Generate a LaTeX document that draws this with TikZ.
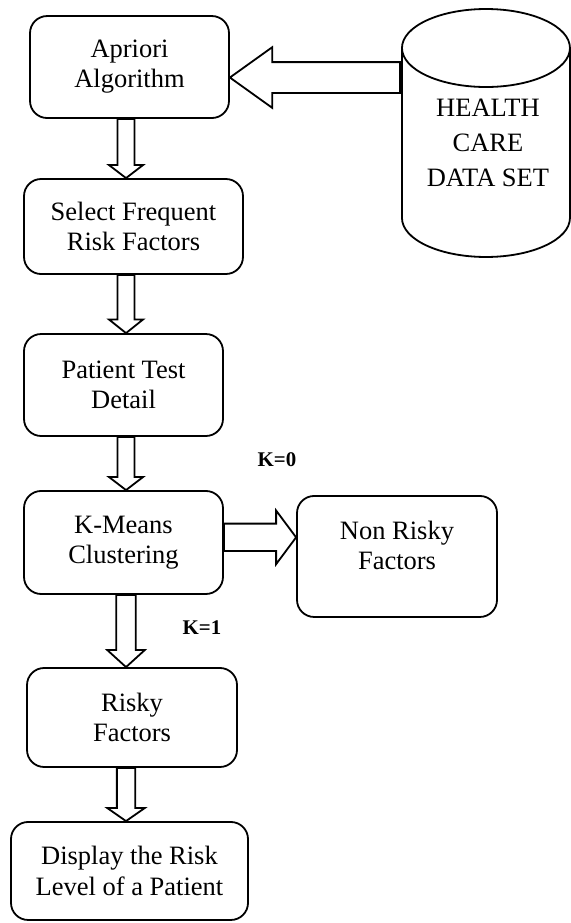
\documentclass[tikz,border=0pt]{standalone}
\usepackage{fontspec}
\setmainfont{Liberation Serif}
\usetikzlibrary{calc}

% hollow block arrow: from, tip, half shaft, half head, head length
\newcommand{\fatarrow}[5]{%
  \path (#1) coordinate (fa-s) (#2) coordinate (fa-e);
  \path ($(fa-e)!#5!(fa-s)$) coordinate (fa-h);
  \draw[fill=white, line join=miter]
    ($(fa-s)!#3!90:(fa-e)$) -- ($(fa-h)!#3!90:(fa-e)$) -- ($(fa-h)!#4!90:(fa-e)$)
    -- (fa-e) -- ($(fa-h)!#4!-90:(fa-e)$) -- ($(fa-h)!#3!-90:(fa-e)$)
    -- ($(fa-s)!#3!-90:(fa-e)$) -- cycle;
}

\begin{document}
\begin{tikzpicture}[line width=0.9pt,
  every node/.style={font=\fontsize{13.2}{15}\selectfont},
  box/.style={draw, rounded corners=0.3cm, align=center, inner sep=0pt},
  klabel/.style={font=\fontsize{10.4}{12}\selectfont\bfseries}]
  \useasboundingbox (0,0) rectangle (10,16.165);

  \node[box, minimum width=3.485cm, minimum height=1.786cm] (apriori) at (2.268, 14.991) {Apriori\\Algorithm};
  \node[box, minimum width=3.835cm, minimum height=1.664cm] (select) at (2.338, 12.198) {Select Frequent\\Risk Factors};
  \node[box, minimum width=3.485cm, minimum height=1.786cm] (patient) at (2.163, 9.422) {Patient Test\\Detail};
  \node[box, minimum width=3.485cm, minimum height=1.804cm] (kmeans) at (2.163, 6.664) {K-Means\\Clustering};
  \node[box, minimum width=3.503cm, minimum height=2.119cm] (nonrisky) at (6.953, 6.419) {Non Risky\\Factors\\[-4pt]~};
  \node[box, minimum width=3.678cm, minimum height=1.734cm] (risky) at (2.312, 3.599) {Risky\\Factors};
  \node[box, minimum width=4.151cm, minimum height=1.716cm] (display) at (2.268, 0.911) {Display the Risk\\Level of a Patient};

  % data set drum
  \draw (7.040,15.324) -- (7.040,12.347) arc[start angle=180, end angle=360, x radius=1.471, y radius=0.683] -- (9.982,15.324);
  \draw (8.511,15.324) ellipse [x radius=1.471, y radius=0.683];
  \node[align=center, font=\fontsize{13.2}{17.4}\selectfont] (dataset) at (8.546, 13.660) {HEALTH\\CARE\\DATA SET};
  \coordinate (dbside) at (7.005, 14.807);
  \coordinate (axis) at (2.207, 0);

  \fatarrow{dbside}{apriori.east |- dbside}{0.27cm}{0.53cm}{0.74cm}
  \fatarrow{apriori.south -| axis}{select.north -| axis}{0.15cm}{0.30cm}{0.23cm}
  \fatarrow{select.south -| axis}{patient.north -| axis}{0.15cm}{0.30cm}{0.24cm}
  \fatarrow{patient.south -| axis}{kmeans.north -| axis}{0.15cm}{0.30cm}{0.23cm}
  \fatarrow{$(kmeans.east)+(0,0.09)$}{$(kmeans.east -| nonrisky.west)+(0,0.09)$}{0.24cm}{0.47cm}{0.35cm}
  \fatarrow{kmeans.south -| axis}{risky.north -| axis}{0.17cm}{0.33cm}{0.30cm}
  \fatarrow{risky.south -| axis}{display.north -| axis}{0.16cm}{0.33cm}{0.23cm}

  \node[klabel] (kzero) at (4.851, 8.108) {K=0};
  \node[klabel] (kone) at (3.538, 5.166) {K=1};
\end{tikzpicture}
\end{document}
